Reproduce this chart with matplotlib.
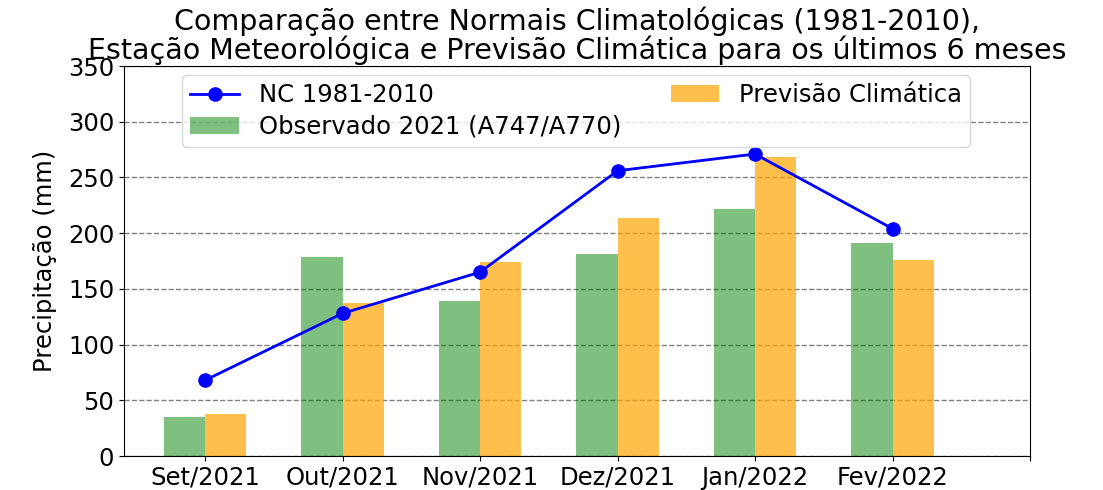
import matplotlib
matplotlib.use("Agg")
import matplotlib.pyplot as plt
import numpy as np

months = ["Set/2021", "Out/2021", "Nov/2021", "Dez/2021", "Jan/2022", "Fev/2022"]
normais = [68, 128, 165, 256, 271, 204]
observado = [35, 179, 139, 181, 222, 191]
previsao = [38, 137, 174, 214, 268, 176]

plt.rcParams["font.family"] = ["DejaVu Sans"]

fig = plt.figure(figsize=(11.03, 4.9), dpi=100)
ax = fig.add_axes([124/1103, 1-456/490, (1030-124)/1103, (456-66)/490])

x = np.arange(len(months))
w = 0.3
ax.plot(x, normais, color="blue", marker="o", markersize=9.5, linewidth=2, label="NC 1981-2010", zorder=3)
ax.bar(x - w/2, observado, w, color="green", alpha=0.5, label="Observado 2021 (A747/A770)", zorder=2)
ax.bar(x + w/2, previsao, w, color="orange", alpha=0.7, label="Previsão Climática", zorder=2)

ax.set_xlim(-0.59, 6.0)
ax.set_ylim(0, 350)
ax.set_xticks(list(x) + [6])
ax.set_xticklabels(months + [""], fontsize=17.5)
ax.tick_params(axis="y", labelsize=17.5)
ax.yaxis.grid(True, linestyle="--", color="gray", linewidth=1, zorder=0)
ax.set_axisbelow(True)
ax.set_ylabel("Precipitação (mm)", fontsize=17.5, labelpad=8)
ax.set_title("Comparação entre Normais Climatológicas (1981-2010),\nEstação Meteorológica e Previsão Climática para os últimos 6 meses",
             fontsize=20.5, linespacing=1.0, pad=5)

h, l = ax.get_legend_handles_labels()
ax.legend(h, l, ncol=2, fontsize=17.5, loc="upper left", bbox_to_anchor=(0.064, 0.977),
          borderaxespad=0, columnspacing=2.05, labelspacing=0.3, borderpad=0.35)

fig.savefig("out.png", dpi=100)
